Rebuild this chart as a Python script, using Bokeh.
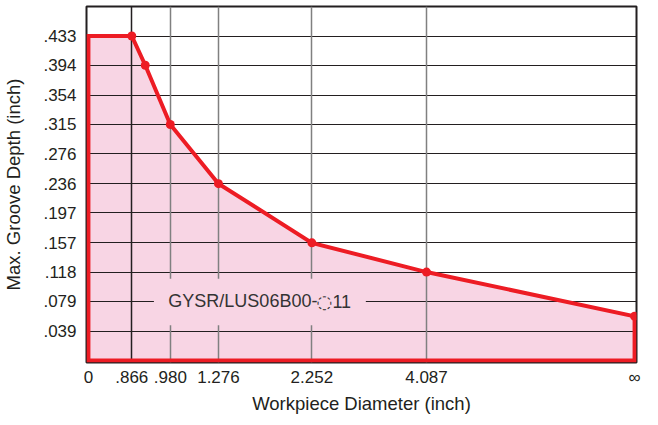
from bokeh.plotting import figure
from bokeh.models import FixedTicker, Range1d
from bokeh.core.properties import value
from bokeh.embed import file_html
from bokeh.resources import INLINE

# ---- data ----
# x axis is a non-linear (schematic) scale: each diameter has a slot position
x_labels = ["0", ".866", ".980", "1.276", "2.252", "4.087", "\u221e"]
x_slots = [0, 45, 85, 135, 232, 351, 567]

y_ticks = [0.039, 0.079, 0.118, 0.157, 0.197, 0.236, 0.276, 0.315, 0.354, 0.394, 0.433]
y_labels = [".039", ".079", ".118", ".157", ".197", ".236", ".276", ".315", ".354", ".394", ".433"]

# limit curve (slot position, max groove depth in inch)
curve_x = [0, 45, 59, 85, 135, 232, 351, 567]
curve_y = [0.433, 0.433, 0.394, 0.315, 0.236, 0.157, 0.118, 0.059]
marker_x = curve_x[1:]
marker_y = curve_y[1:]

label_parts = ["GYSR/LUS06B00-", "\u25cc", "11"]

RED = "#ED1C24"
PINK = "#F8D5E4"
DARK = "#231F20"
GRAY = "#808080"
FONT = "Liberation Sans"

p = figure(frame_width=550, frame_height=356, output_backend="svg", toolbar_location=None,
           x_range=Range1d(-2, 569), y_range=Range1d(-0.00267, 0.4724),
           min_border_left=86, min_border_right=6, min_border_top=6, min_border_bottom=0)

p.background_fill_color = "white"
p.outline_line_color = DARK
p.outline_line_width = 2
p.xgrid.visible = False
p.ygrid.visible = False

# filled region
poly_x = [curve_x[0]] + curve_x + [curve_x[-1]]
poly_y = [0] + curve_y + [0]
p.patch(poly_x, poly_y, fill_color=PINK, line_color=None)

# grid lines
p.hspan(y=y_ticks, line_color=DARK, line_width=1.2)
vcolors = [DARK, GRAY, GRAY, GRAY, GRAY]
p.vspan(x=x_slots[1:6], line_color=vcolors, line_width=1.5)

# label box covering the grid, and the series label
p.quad(left=68, right=288, bottom=0.047, top=0.109, fill_color=PINK, line_color=None)
p.text(x=[245], y=[0.079], text=[label_parts[0]], text_align="right", text_baseline="middle",
       x_offset=-7, text_font=value(FONT), text_font_size="18px", text_color="#333333")
p.text(x=[245], y=[0.079], text=[label_parts[1]], text_align="center", text_baseline="middle",
       text_font=value("DejaVu Sans"), text_font_size="18px", text_color="#333333")
p.text(x=[245], y=[0.079], text=[label_parts[2]], text_align="left", text_baseline="middle",
       x_offset=8, text_font=value(FONT), text_font_size="18px", text_color="#333333")

# red outline + markers
p.patch(poly_x, poly_y, fill_color=None, line_color=RED, line_width=4, line_join="miter")
p.scatter(marker_x, marker_y, size=9, fill_color=RED, line_color=None)

# axes
p.xaxis.ticker = FixedTicker(ticks=x_slots)
p.xaxis.major_label_overrides = {s: l for s, l in zip(x_slots, x_labels)}
p.yaxis.ticker = FixedTicker(ticks=y_ticks)
p.yaxis.major_label_overrides = {t: l for t, l in zip(y_ticks, y_labels)}

for ax in (p.xaxis[0], p.yaxis[0]):
    ax.axis_line_color = None
    ax.major_tick_line_color = None
    ax.minor_tick_line_color = None
    ax.major_tick_out = 0
    ax.major_tick_in = 0
    ax.major_label_text_font = FONT
    ax.major_label_text_font_size = "17px"
    ax.major_label_text_color = DARK
    ax.axis_label_text_font = FONT
    ax.axis_label_text_font_size = "18.5px"
    ax.axis_label_text_font_style = "normal"
    ax.axis_label_text_color = DARK

p.xaxis.axis_label = "Workpiece Diameter (inch)"
p.yaxis.axis_label = "Max. Groove Depth (inch)"
p.xaxis.major_label_standoff = 5
p.xaxis.axis_label_standoff = 3
p.yaxis.major_label_standoff = 10
p.yaxis.axis_label_standoff = 16

open("out.html", "w").write(file_html(p, INLINE))
